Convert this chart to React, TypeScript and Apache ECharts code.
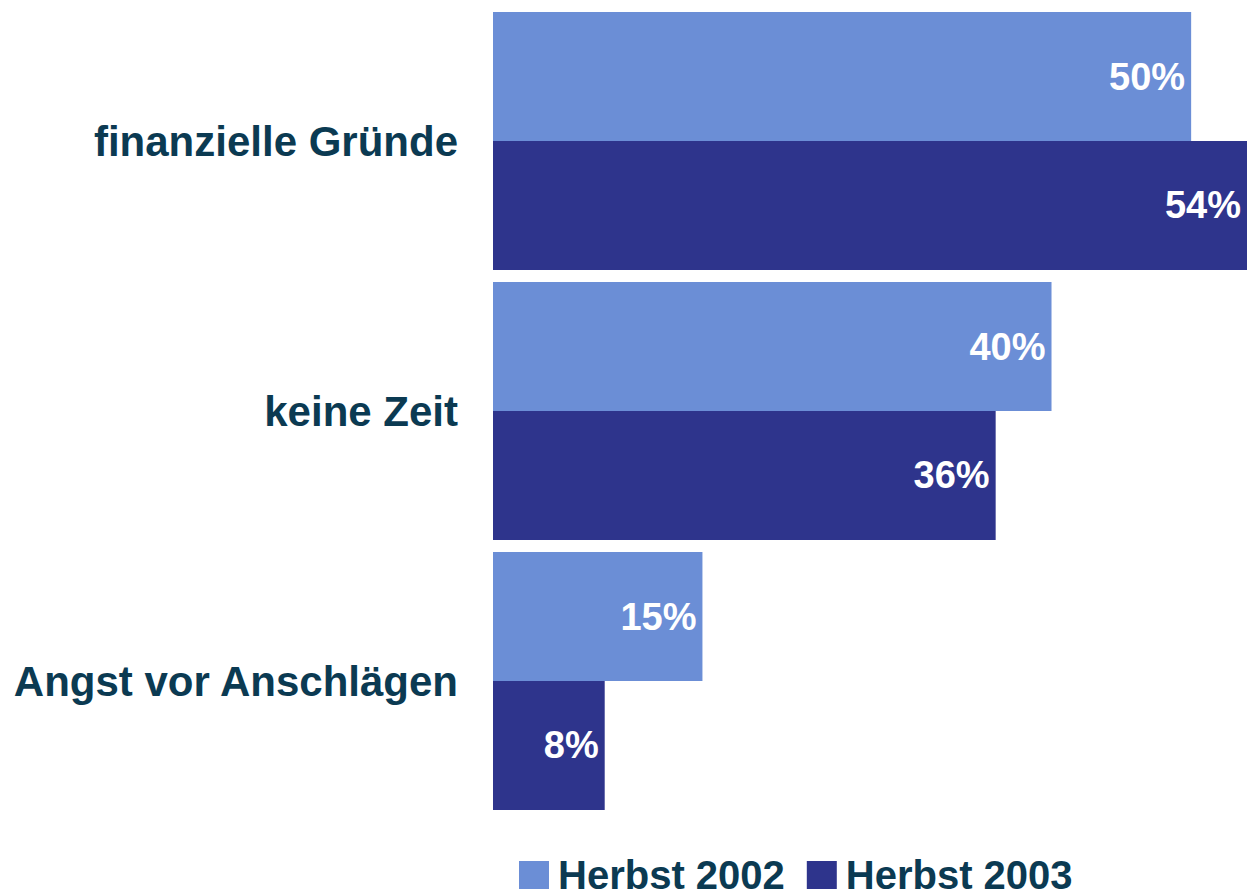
import React, { useEffect, useRef } from "react";
import * as echarts from "echarts";

const categories = ["finanzielle Gründe", "keine Zeit", "Angst vor Anschlägen"];
const herbst2002 = [50, 40, 15];
const herbst2003 = [54, 36, 8];
const seriesNames = ["Herbst 2002", "Herbst 2003"];

const FONT = "'Liberation Sans', Arial, sans-serif";
const TEXT_COLOR = "#0B3A52";

export default function App() {
  const ref = useRef<HTMLDivElement>(null);
  useEffect(() => {
    if (!ref.current) return;
    const chart = echarts.init(ref.current, undefined, { renderer: "svg" });
    const label = {
      show: true,
      position: "insideRight",
      distance: 6,
      color: "#ffffff",
      fontFamily: FONT,
      fontWeight: "bold",
      fontSize: 38,
      formatter: "{c}%",
    };
    chart.setOption({
      animation: false,
      backgroundColor: "#ffffff",
      grid: { left: 493, right: 0, top: 6, height: 810, containLabel: false },
      xAxis: {
        type: "value",
        min: 0,
        max: 54,
        show: false,
      },
      yAxis: {
        type: "category",
        data: categories,
        inverse: true,
        axisLine: { show: false },
        axisTick: { show: false },
        axisLabel: {
          margin: 35,
          color: TEXT_COLOR,
          fontFamily: FONT,
          fontWeight: "bold",
          fontSize: 42,
        },
      },
      legend: {
        left: 514,
        top: 850,
        itemWidth: 30,
        itemHeight: 28,
        itemGap: 22,
        icon: "rect",
        textStyle: {
          color: TEXT_COLOR,
          fontFamily: FONT,
          fontWeight: "bold",
          fontSize: 40,
          lineHeight: 40,
          padding: [0, 0, 0, 4],
        },
        data: seriesNames,
      },
      series: [
        {
          name: seriesNames[0],
          type: "bar",
          data: herbst2002,
          itemStyle: { color: "#6B8ED6" },
          barGap: "0%",
          barCategoryGap: "4.5%",
          label,
        },
        {
          name: seriesNames[1],
          type: "bar",
          data: herbst2003,
          itemStyle: { color: "#2E348C" },
          barGap: "0%",
          barCategoryGap: "4.5%",
          label,
        },
      ],
    });
    return () => chart.dispose();
  }, []);
  return (
    <div
      ref={ref}
      style={{ position: "fixed", left: 0, top: 0, width: 1247, height: 896 }}
    />
  );
}
